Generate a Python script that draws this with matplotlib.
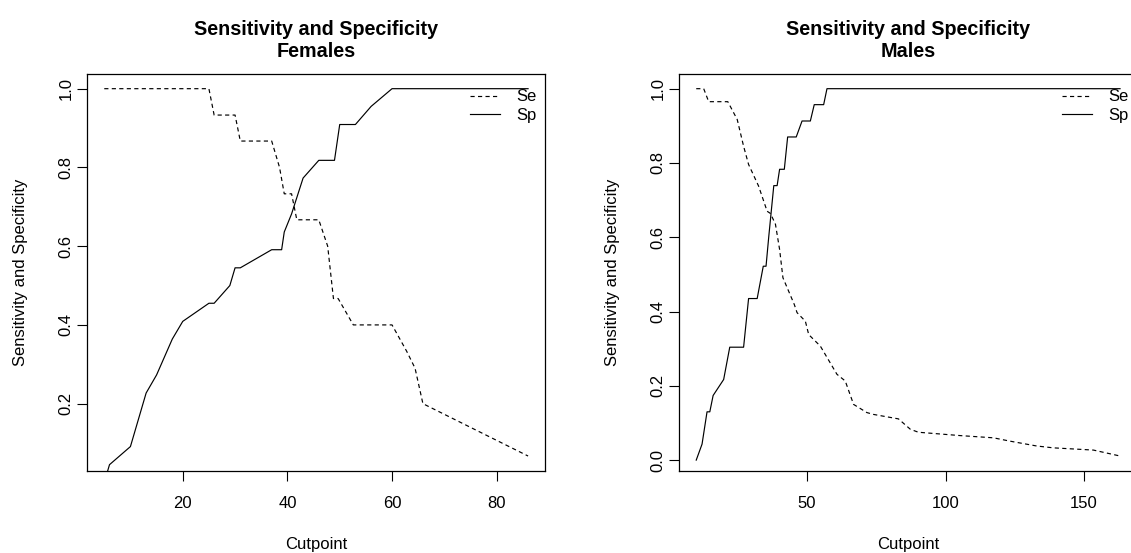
import matplotlib
matplotlib.use('Agg')
import matplotlib.pyplot as plt

plt.rcParams['font.family'] = ['Liberation Sans', 'DejaVu Sans']
plt.rcParams['lines.scale_dashes'] = False

# Females
fem_se_x = [5, 25, 26, 30, 31, 37, 38.5, 39.4, 40.8, 41.8, 46, 47.7, 48.8, 49.7, 52.6, 60, 62.8, 64.4, 65.9, 86]
fem_se = [1, 1, 0.933, 0.933, 0.867, 0.867, 0.8, 0.733, 0.733, 0.667, 0.667, 0.6, 0.467, 0.467, 0.4, 0.4, 0.333, 0.29, 0.2, 0.067]
fem_sp_x = [5, 6, 10, 13, 15, 18, 20, 25, 26, 29, 30, 31, 37, 38.9, 39.4, 40.8, 43, 46, 49, 50, 53, 56, 60, 86]
fem_sp = [0, 0.045, 0.091, 0.227, 0.273, 0.364, 0.409, 0.455, 0.455, 0.5, 0.545, 0.545, 0.591, 0.591, 0.636, 0.682, 0.773, 0.818, 0.818, 0.909, 0.909, 0.955, 1, 1]

# Males
male_se_x = [10, 12.7, 14.5, 21.4, 24.8, 27.1, 28.9, 32.5, 35.6, 36.8, 38.6, 40.1, 41.3, 45.4, 46.4, 49.4, 50.6, 54.8,
             60.8, 63.8, 66.8, 71.6, 74, 83, 87.3, 90.2, 105.3, 117.3, 123.3, 132.9, 138.9, 153.4, 163]
male_se = [1, 1, 0.965, 0.965, 0.917, 0.845, 0.796, 0.738, 0.67, 0.664, 0.635, 0.567, 0.491, 0.419, 0.397, 0.374, 0.338, 0.307,
           0.231, 0.213, 0.15, 0.128, 0.123, 0.111, 0.083, 0.075, 0.066, 0.06, 0.051, 0.038, 0.033, 0.027, 0.011]
male_sp_x = [10, 12.1, 13.9, 14.9, 16.1, 19.9, 22.1, 27.1, 28.9, 32, 34.2, 35.2, 36.2, 38, 39.2, 40.1, 41.8, 43, 46.1,
             48.2, 51.2, 52.6, 56, 57.2, 163]
male_sp = [0, 0.043, 0.13, 0.13, 0.174, 0.217, 0.304, 0.304, 0.435, 0.435, 0.522, 0.522, 0.603, 0.739, 0.739, 0.783, 0.783,
           0.870, 0.870, 0.913, 0.913, 0.957, 0.957, 1, 1]

panels = [
    ('Females', fem_se_x, fem_se, fem_sp_x, fem_sp, [20, 40, 60, 80], [0.2, 0.4, 0.6, 0.8, 1.0]),
    ('Males', male_se_x, male_se, male_sp_x, male_sp, [50, 100, 150], [0.0, 0.2, 0.4, 0.6, 0.8, 1.0]),
]


def rlim(v):
    lo, hi = min(v), max(v)
    r = hi - lo
    return lo - 0.04 * r, hi + 0.04 * r


fig = plt.figure(figsize=(11.31, 5.53), dpi=100)
lefts = [0.0772, 0.6006]
for left, (name, sx, se, px, sp, xt, yt) in zip(lefts, panels):
    ax = fig.add_axes([left, 0.1488, 0.4047, 0.7174])
    ax.plot(sx, se, color='black', lw=0.85, dashes=(3, 2.4), label='Se')
    ax.plot(px, sp, color='black', lw=0.85, label='Sp')
    ax.set_xlim(rlim(sx))
    ax.set_ylim(rlim(se))
    ax.set_xticks(xt)
    ax.set_xticklabels([str(t) for t in xt])
    ax.set_yticks(yt)
    ax.set_yticklabels([f'{t:.1f}' for t in yt], rotation=90, va='center')
    ax.tick_params(direction='out', length=7, width=0.8, labelsize=12)
    ax.tick_params(axis='x', pad=11)
    ax.tick_params(axis='y', pad=3)
    for s in ax.spines.values():
        s.set_linewidth(0.9)
    ax.set_xlabel('Cutpoint', fontsize=12, labelpad=19)
    ax.set_ylabel('Sensitivity and Specificity', fontsize=12, labelpad=22)
    ax.set_title('Sensitivity and Specificity\n' + name, fontsize=14.2, fontweight='bold', pad=12, linespacing=1.25)
    ax.legend(loc='upper right', bbox_to_anchor=(1.0, 0.982), frameon=False, fontsize=12, handlelength=1.8,
              handletextpad=1.0, labelspacing=0.2, borderaxespad=0.3, borderpad=0.2)

fig.savefig('out.png', dpi=100)
